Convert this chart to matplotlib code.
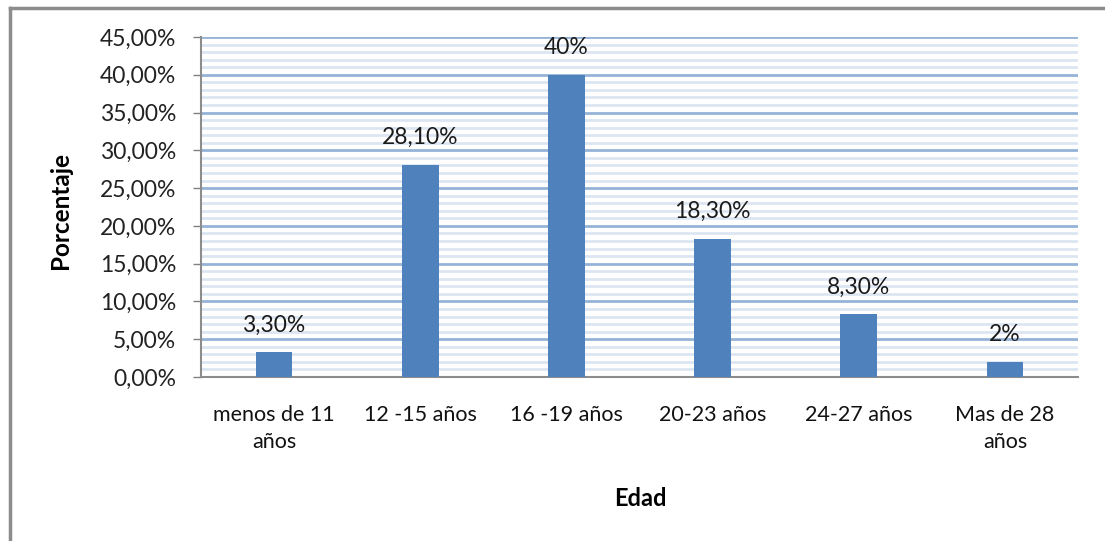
import matplotlib
matplotlib.use("Agg")
import matplotlib.pyplot as plt
from matplotlib.ticker import MultipleLocator, FuncFormatter
from matplotlib.lines import Line2D

plt.rcParams['font.family'] = ['Lato', 'DejaVu Sans']

categories = ["menos de 11\naños", "12 -15 años", "16 -19 años",
              "20-23 años", "24-27 años", "Mas de 28\naños"]
values = [3.3, 28.1, 40.0, 18.3, 8.3, 2.0]
labels = ["3,30%", "28,10%", "40%", "18,30%", "8,30%", "2%"]

W, H = 1105, 541
fig = plt.figure(figsize=(W / 100, H / 100), dpi=100)
ax = fig.add_axes([201 / W, 1 - 377 / H, (1078 - 201) / W, (377 - 37) / H])

x = range(len(categories))
ax.bar(x, values, width=0.25, color="#4F81BD", zorder=3)
for xi, v, t in zip(x, values, labels):
    ax.annotate(t, (xi, v), xytext=(0, 12), textcoords="offset points",
                ha="center", va="bottom", fontsize=16.5, color="#1a1a1a")

ax.set_xlim(-0.5, len(categories) - 0.5)
ax.set_ylim(0, 45)
ax.yaxis.set_major_locator(MultipleLocator(5))
ax.yaxis.set_minor_locator(MultipleLocator(1))
ax.yaxis.set_major_formatter(FuncFormatter(lambda v, p: f"{v:.2f}%".replace(".", ",")))
ax.grid(which="major", axis="y", color="#95B3D7", linewidth=2.0, zorder=0)
ax.grid(which="minor", axis="y", color="#DCE6F2", linewidth=2.0, zorder=0)
ax.tick_params(axis="y", which="major", length=6, width=1, color="#808080",
               labelsize=16.5, labelcolor="#222222", pad=12)
ax.tick_params(axis="y", which="minor", length=0)
ax.tick_params(axis="x", length=0, labelsize=15.5, labelcolor="#111111", pad=20)
ax.set_xticks(list(x))
ax.set_xticklabels(categories, linespacing=1.45)

for s in ["top", "right"]:
    ax.spines[s].set_visible(False)
for s in ["left", "bottom"]:
    ax.spines[s].set_color("#8C8C8C")
    ax.spines[s].set_linewidth(1.5)
ax.spines["bottom"].set_bounds(-0.5, len(categories) - 0.5)

ax.set_ylabel("Porcentaje", fontsize=17.5, fontweight="bold")
ax.yaxis.set_label_coords(-(201 - 61) / (1078 - 201), 0.49)
ax.yaxis.label.set_va("center")
fig.text(640 / W, 1 - 498 / H, "Edad", ha="center", va="center",
         fontsize=17, fontweight="bold")

# chart frame
fig.add_artist(Line2D([10 / W, 1], [1 - 8 / H, 1 - 8 / H], color="#8C8C8C",
                      linewidth=2.5, transform=fig.transFigure))
fig.add_artist(Line2D([10 / W, 10 / W], [0, 1 - 8 / H], color="#8C8C8C",
                      linewidth=2.5, transform=fig.transFigure))

fig.savefig("out.png", dpi=100)
